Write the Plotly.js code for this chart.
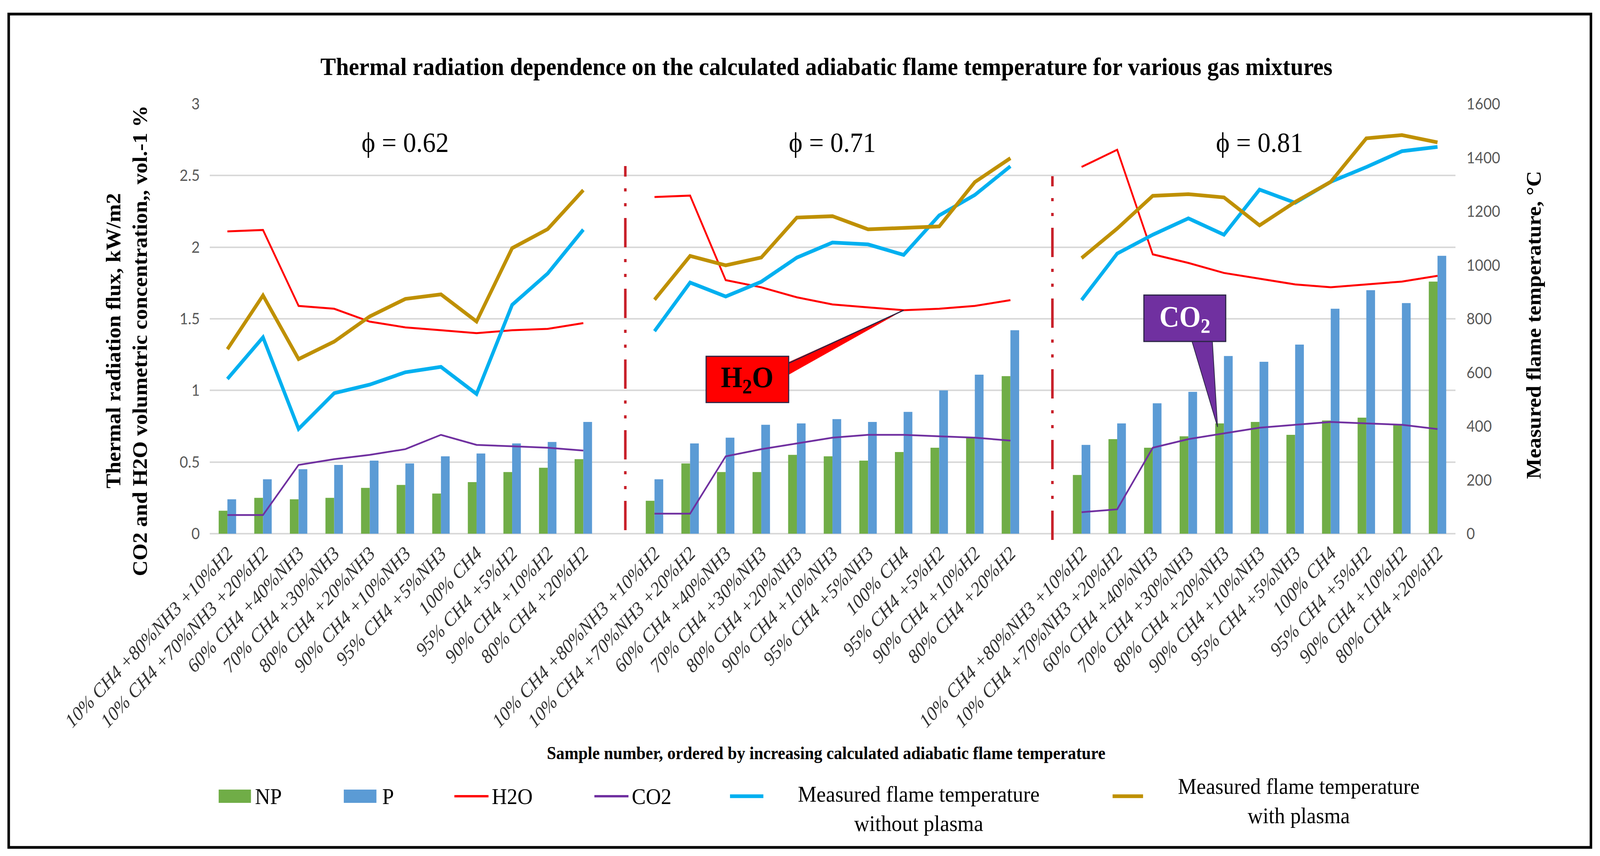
<!DOCTYPE html>
<html>
<head>
<meta charset="utf-8">
<script src="https://cdn.plot.ly/plotly-3.0.1.min.js"></script>
<style>
html,body{margin:0;padding:0;background:#fff;overflow:hidden;}
#wrap{width:4412px;height:2191px;transform-origin:0 0;}
#chart{width:4412px;height:2191px;}
</style>
</head>
<body>
<div id="wrap"><div id="chart"></div></div>
<script>
// ---------------- DATA ----------------
const phiGroups = ["0.62", "0.71", "0.81"];
const mixtures = ["10% CH4 +80%NH3 +10%H2", "10% CH4 +70%NH3 +20%H2", "60% CH4 +40%NH3", "70% CH4 +30%NH3",
  "80% CH4 +20%NH3", "90% CH4 +10%NH3", "95% CH4 +5%NH3", "100% CH4", "95% CH4 +5%H2", "90% CH4 +10%H2", "80% CH4 +20%H2"];
const seriesNames = ["NP", "P", "H2O", "CO2", "Measured flame temperature<br>without plasma", "Measured flame temperature<br>with plasma"];

// Thermal radiation flux, kW/m2 (no plasma / plasma)
const npFlux062 = [0.16, 0.25, 0.24, 0.25, 0.32, 0.34, 0.28, 0.36, 0.43, 0.46, 0.52];
const npFlux071 = [0.23, 0.49, 0.43, 0.43, 0.55, 0.54, 0.51, 0.57, 0.60, 0.67, 1.10];
const npFlux081 = [0.41, 0.66, 0.60, 0.68, 0.77, 0.78, 0.69, 0.79, 0.81, 0.76, 1.76];
const pFlux062 = [0.24, 0.38, 0.45, 0.48, 0.51, 0.49, 0.54, 0.56, 0.63, 0.64, 0.78];
const pFlux071 = [0.38, 0.63, 0.67, 0.76, 0.77, 0.80, 0.78, 0.85, 1.00, 1.11, 1.42];
const pFlux081 = [0.62, 0.77, 0.91, 0.99, 1.24, 1.20, 1.32, 1.57, 1.70, 1.61, 1.94];
// Volumetric concentrations, vol. %
const h2o062 = [2.11, 2.12, 1.59, 1.57, 1.48, 1.44, 1.42, 1.40, 1.42, 1.43, 1.47];
const h2o071 = [2.35, 2.36, 1.77, 1.72, 1.65, 1.60, 1.58, 1.56, 1.57, 1.59, 1.63];
const h2o081 = [2.56, 2.68, 1.95, 1.89, 1.82, 1.78, 1.74, 1.72, 1.74, 1.76, 1.80];
const co2062 = [0.13, 0.13, 0.48, 0.52, 0.55, 0.59, 0.69, 0.62, 0.61, 0.60, 0.58];
const co2071 = [0.14, 0.14, 0.54, 0.59, 0.63, 0.67, 0.69, 0.69, 0.68, 0.67, 0.65];
const co2081 = [0.15, 0.17, 0.60, 0.66, 0.70, 0.74, 0.76, 0.78, 0.77, 0.76, 0.73];
// Measured flame temperature, °C
const tNoPlasma062 = [576, 731, 390, 523, 555, 601, 621, 520, 852, 969, 1132];
const tNoPlasma071 = [754, 935, 883, 938, 1028, 1084, 1077, 1038, 1185, 1261, 1368];
const tNoPlasma081 = [870, 1043, 1113, 1174, 1113, 1281, 1232, 1310, 1365, 1424, 1440];
const tPlasma062 = [687, 887, 650, 715, 809, 874, 891, 790, 1063, 1134, 1279];
const tPlasma071 = [871, 1034, 999, 1028, 1177, 1182, 1133, 1139, 1144, 1309, 1398];
const tPlasma081 = [1026, 1136, 1258, 1264, 1252, 1148, 1235, 1310, 1472, 1484, 1457];

// ---------------- HELPERS ----------------
const SLOT = mixtures.length + 1; // one empty slot between groups
function joinGroups(arrs) {
  const x = [], y = [];
  arrs.forEach((a, g) => {
    if (g > 0) { x.push(g * SLOT - 1); y.push(null); }
    a.forEach((v, i) => { x.push(g * SLOT + i); y.push(v); });
  });
  return { x, y };
}
const tickvals = [], ticktext = [];
phiGroups.forEach((p, g) => mixtures.forEach((m, i) => { tickvals.push(g * SLOT + i); ticktext.push(m); }));

const SERIF = "Liberation Serif, Times New Roman, serif";
const SANS = "Lato, Liberation Sans, sans-serif";
const colors = ["#70AD47", "#5B9BD5", "#FF0000", "#7030A0", "#00B0F0", "#BF9000"];
const widths = [0, 0, 5, 4.5, 9.5, 9.5];

const np = joinGroups([npFlux062, npFlux071, npFlux081]);
const pp = joinGroups([pFlux062, pFlux071, pFlux081]);
const h2o = joinGroups([h2o062, h2o071, h2o081]);
const co2 = joinGroups([co2062, co2071, co2081]);
const tn = joinGroups([tNoPlasma062, tNoPlasma071, tNoPlasma081]);
const tp = joinGroups([tPlasma062, tPlasma071, tPlasma081]);

const traces = [
  { type: "bar", name: seriesNames[0], x: np.x, y: np.y, marker: { color: colors[0] }, yaxis: "y" },
  { type: "bar", name: seriesNames[1], x: pp.x, y: pp.y, marker: { color: colors[1] }, yaxis: "y" },
  { type: "scatter", mode: "lines", name: seriesNames[2], x: h2o.x, y: h2o.y, line: { color: colors[2], width: widths[2] }, connectgaps: false, yaxis: "y" },
  { type: "scatter", mode: "lines", name: seriesNames[3], x: co2.x, y: co2.y, line: { color: colors[3], width: widths[3] }, connectgaps: false, yaxis: "y" },
  { type: "scatter", mode: "lines", name: seriesNames[4], x: tn.x, y: tn.y, line: { color: colors[4], width: widths[4] }, connectgaps: false, yaxis: "y2" },
  { type: "scatter", mode: "lines", name: seriesNames[5], x: tp.x, y: tp.y, line: { color: colors[5], width: widths[5] }, connectgaps: false, yaxis: "y2" }
];

// ---------------- LAYOUT ----------------
const W = 4412, H = 2191, L = 578, R = 4013, T = 266, B = 1366;
const PW = R - L, PH = B - T;
const px = v => (v - L) / PW;       // pixel -> paper x
const py = v => (B - v) / PH;       // pixel -> paper y

const shapes = [];
const annotations = [];

// outer frame
shapes.push({ type: "rect", xref: "paper", yref: "paper", x0: px(24), x1: px(4387), y0: py(2169), y1: py(36),
  line: { color: "#000", width: 7 }, fillcolor: "rgba(0,0,0,0)" });

// group separators (dash-dot-dot)
const sepTop = [425, 451], sepBot = [1357, 1382];
for (let g = 1; g < phiGroups.length; g++) {
  const gx = g * SLOT - 1 + 0.18;
  shapes.push({ type: "line", xref: "x", yref: "paper", x0: gx, x1: gx, y0: py(sepBot[g - 1]), y1: py(sepTop[g - 1]),
    line: { color: "#C8202A", width: 7, dash: "75px,30px,8px,30px,8px,30px" } });
}

// phi labels
phiGroups.forEach((p, g) => {
  annotations.push({ x: g * SLOT + 5, y: 2.73, xref: "x", yref: "y", text: "ϕ = " + p, showarrow: false,
    xanchor: "center", yanchor: "middle", font: { family: SERIF, size: 72, color: "#000" } });
});

// H2O callout (points to H2O at 100% CH4, phi = 0.71)
const h2oTipX = 1 * SLOT + 7, h2oTipY = h2o071[7];
shapes.push({ type: "path", xref: "x", yref: "y",
  path: `M 15.7,1.19 L ${h2oTipX},${h2oTipY} L 15.7,1.10 Z`, fillcolor: "#FF0000", line: { width: 0 } });
shapes.push({ type: "line", xref: "x", yref: "y", x0: 15.77, y0: 1.19, x1: h2oTipX, y1: h2oTipY,
  line: { color: "#2B2545", width: 3 } });
shapes.push({ type: "rect", xref: "x", yref: "y", x0: 13.45, x1: 15.77, y0: 0.916, y1: 1.238,
  fillcolor: "#FF0000", line: { color: "#2B2545", width: 3 } });
annotations.push({ x: 14.61, y: 1.077, xref: "x", yref: "y", text: "H<sub>2</sub>O", showarrow: false,
  xanchor: "center", yanchor: "middle", font: { family: SERIF, size: 76, color: "#000", weight: "bold" } });

// CO2 callout (points to CO2 near 80% CH4 +20%NH3, phi = 0.81)
shapes.push({ type: "path", xref: "x", yref: "y",
  path: "M 27.08,1.36 L 27.82,0.745 L 27.67,1.36 Z", fillcolor: "#7030A0", line: { color: "#2B2545", width: 2 } });
shapes.push({ type: "rect", xref: "x", yref: "y", x0: 25.75, x1: 28.05, y0: 1.342, y1: 1.666,
  fillcolor: "#7030A0", line: { color: "#2B2545", width: 3 } });
annotations.push({ x: 26.9, y: 1.50, xref: "x", yref: "y", text: "CO<sub>2</sub>", showarrow: false,
  xanchor: "center", yanchor: "middle", font: { family: SERIF, size: 76, color: "#FFFFFF", weight: "bold" } });

// axis titles
annotations.push({ x: px(350), y: py(873), xref: "paper", yref: "paper", textangle: -90, showarrow: false,
  text: "Thermal radiation flux, kW/m2<br>CO2 and H2O volumetric concentration,, vol.-1 %", align: "center",
  xanchor: "center", yanchor: "middle", font: { family: SERIF, size: 56, color: "#000", weight: "bold" } });
annotations.push({ x: px(4229), y: py(832), xref: "paper", yref: "paper", textangle: -90, showarrow: false,
  text: "Measured flame temperature, °C", xanchor: "center", yanchor: "middle",
  font: { family: SERIF, size: 56, color: "#000", weight: "bold" } });
annotations.push({ x: px(2278), y: py(1928), xref: "paper", yref: "paper", showarrow: false,
  text: "Sample number, ordered by increasing calculated adiabatic flame temperature", xanchor: "center", yanchor: "middle",
  font: { family: SERIF, size: 46, color: "#000", weight: "bold" } });

// custom legend
const legSym = [[603, 692], [948, 1038], [1253, 1347], [1639, 1733], [2013, 2105], [3068, 3152]];
const legTextX = [701, 1052, 1354, 1740, 2533, 3581];
const legTextY = [2038, 2038, 2038, 2038, 2070, 2050];
const LEGY = 2038;
seriesNames.forEach((nm, i) => {
  if (i < 2) {
    shapes.push({ type: "rect", xref: "paper", yref: "paper", x0: px(legSym[i][0]), x1: px(legSym[i][1]),
      y0: py(LEGY + 17), y1: py(LEGY - 17), fillcolor: colors[i], line: { width: 0 } });
  } else {
    shapes.push({ type: "line", xref: "paper", yref: "paper", x0: px(legSym[i][0]), x1: px(legSym[i][1]),
      y0: py(LEGY), y1: py(LEGY), line: { color: colors[i], width: Math.max(widths[i], 6) } });
  }
  annotations.push({ x: px(legTextX[i]), y: py(legTextY[i]), xref: "paper", yref: "paper", showarrow: false,
    text: nm, align: "center", xanchor: i < 4 ? "left" : "center", yanchor: "middle",
    font: { family: SERIF, size: 58, color: "#000" } });
});

const layout = {
  width: W, height: H,
  margin: { l: L, r: W - R, t: T, b: H - B, pad: 0 },
  paper_bgcolor: "#FFFFFF", plot_bgcolor: "#FFFFFF",
  showlegend: false,
  barmode: "group", bargap: 0.51, bargroupgap: 0,
  title: { text: "Thermal radiation dependence on the calculated adiabatic flame temperature for various gas mixtures",
    xref: "container", yref: "container", x: 2279 / W, y: 1 - 170 / H, xanchor: "center", yanchor: "middle",
    font: { family: SERIF, size: 64, color: "#000", weight: "bold" } },
  xaxis: {
    range: [-0.5, phiGroups.length * SLOT - 1.5], tickmode: "array", tickvals: tickvals, ticktext: ticktext,
    tickangle: -45, ticks: "", showgrid: false, zeroline: false, showline: false,
    tickfont: { family: SERIF, size: 50, color: "#333333", style: "italic" }, ticklabelstandoff: 10
  },
  yaxis: {
    range: [0, 3], tick0: 0, dtick: 0.5, ticks: "", showline: false,
    gridcolor: "#D9D9D9", gridwidth: 4, zeroline: true, zerolinecolor: "#D9D9D9", zerolinewidth: 4,
    tickfont: { family: SANS, size: 40, color: "#595959" }, ticklabelstandoff: 26
  },
  yaxis2: {
    range: [0, 1600], tick0: 0, dtick: 200, overlaying: "y", side: "right", ticks: "",
    showgrid: false, zeroline: false, showline: false,
    tickfont: { family: SANS, size: 40, color: "#595959" }, ticklabelstandoff: 30
  },
  shapes: shapes,
  annotations: annotations
};

// fit the fixed 4412x2191 design into the actual viewport, if it is smaller
const vw = window.innerWidth || W, vh = window.innerHeight || H;
const sx = Math.min(1, vw / W), sy = Math.min(1, vh / H);
if (sx < 0.999 || sy < 0.999) {
  document.getElementById("wrap").style.transform = `scale(${sx},${sy})`;
}

Plotly.newPlot("chart", traces, layout, { staticPlot: true, displayModeBar: false });
</script>
</body>
</html>
